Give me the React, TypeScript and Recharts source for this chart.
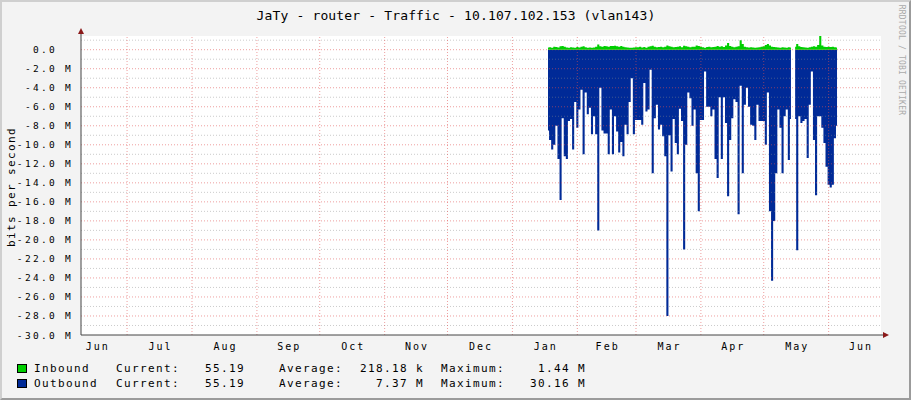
import React from 'react';
import { AreaChart, Area, XAxis, YAxis, CartesianGrid, ReferenceLine, ReferenceDot } from 'recharts';

// Days counted from 1 June of the first year shown
const firstDay = 231;
const inbound: (number | null)[] = [
  0.22, 0.25, 0.2, 0.3, 0.28, 0.24, 0.35, 0.4, 0.3, 0.22,
  0.2, 0.25, 0.22, 0.2, 0.28, 0.22, 0.3, 0.35, 0.25, 0.2,
  0.22, 0.2, 0.24, 0.3, 0.55, 0.35, 0.3, 0.4, 0.35, 0.3,
  0.38, 0.4, 0.42, 0.35, 0.3, 0.38, 0.3, 0.25, 0.22, 0.2,
  0.2, 0.22, 0.25, 0.25, 0.3, 0.22, 0.28, 0.2, 0.3, 0.35,
  0.42, 0.3, 0.25, 0.28, 0.3, 0.25, 0.32, 0.45, 0.35, 0.3,
  0.25, 0.28, 0.3, 0.35, 0.25, 0.42, 0.35, 0.3, 0.25, 0.3,
  0.3, 0.45, 0.4, 0.3, 0.25, 0.2, 0.28, 0.3, 0.25, 0.28,
  0.32, 0.4, 0.3, 0.35, 0.28, 0.45, 0.7, 0.4, 0.3, 0.25,
  0.3, 0.35, 1.0, 0.6, 0.3, 0.25, 0.22, 0.25, 0.22, 0.2,
  0.22, 0.25, 0.3, 0.35, 0.5, 0.6, 0.45, 0.3, 0.28, 0.25,
  0.22, 0.2, 0.25, 0.22, 0.2, 0.25, 0.22,
  null,
  0.3, 0.6, 0.35, 0.28, 0.25, 0.22, 0.2, 0.25, 0.3, 0.35,
  0.3, 0.5, 1.44, 0.45, 0.3, 0.28, 0.3, 0.28, 0.3, 0.25, 0.22,
];
const outbound: (number | null)[] = [
  -8.5, -9.5, -10.5, -10, -8.0, -11.5, -15.8, -7.2, -11.2, -11.5,
  -7.5, -7.3, -10.5, -5.5, -8.2, -6.3, -4.2, -11, -4.5, -6.8,
  -6.1, -8.9, -7.0, -8.9, -19, -4.0, -8.5, -8.8, -8.8, -11,
  -6.3, -11, -7.0, -8.6, -10.8, -9.7, -11.2, -7.9, -8.9, -5.5,
  -3.0, -8.9, -7.4, -7.4, -7.4, -7.9, -3.5, -6.5, -6.3, -2.1,
  -13, -7.2, -5.8, -8.4, -7.9, -9.1, -11.2, -28, -9.0, -12.8,
  -7.3, -9.8, -11, -6.2, -7.5, -21, -10, -4.5, -5.1, -8,
  -6.3, -13, -17, -7.4, -7.4, -2.3, -6.0, -6.0, -7.0, -6.3,
  -11.5, -13.5, -5, -11.5, -5, -7.7, -15.4, -9.5, -7.2, -5.2,
  -5.5, -17.3, -3.8, -13, -5.8, -4, -6, -7.9, -8, -9.5,
  -5.8, -7.5, -7.5, -7.5, -10, -4.5, -17, -24.3, -18, -13,
  -6.3, -8.2, -13, -7, -6.3, -11.6, -7.3,
  null,
  -7.3, -21.1, -7, -7.7, -7.5, -7.3, -11.4, -5.8, -2.3, -9.5,
  -15.3, -7, -7, -8.2, -9.8, -12.3, -14.2, -14.5, -14.2, -9.3, -8,
];
const data = inbound.map((v, i) => ({ day: firstDay + i, inbound: v, outbound: outbound[i] }));

const xDomain: [number, number] = [8, 390];
const yDomain: [number, number] = [-30, 1.44];
const monthStarts = [30, 61, 92, 122, 153, 183, 214, 245, 273, 304, 334, 365];
const monthMids = [15.5, 45.5, 76.5, 107, 137.5, 168, 198.5, 229.5, 259, 288.5, 319, 349.5, 380];
const monthLabels = ['Jun', 'Jul', 'Aug', 'Sep', 'Oct', 'Nov', 'Dec', 'Jan', 'Feb', 'Mar', 'Apr', 'May', 'Jun'];
const yTicks = [0, -2, -4, -6, -8, -10, -12, -14, -16, -18, -20, -22, -24, -26, -28, -30];
const minorLines = [1, -1, -3, -5, -7, -9, -11, -13, -15, -17, -19, -21, -23, -25, -27, -29];
const majorLines = [0, -2, -4, -6, -8, -10, -12, -14, -16, -18, -20, -22, -24, -26, -28];

const title = 'JaTy - router - Traffic - 10.107.102.153 (vlan143)';
const legendRows = [
  { name: 'Inbound', color: '#00CF00', current: '55.19', average: '218.18 k', maximum: '1.44 M' },
  { name: 'Outbound', color: '#002A97', current: '55.19', average: '7.37 M', maximum: '30.16 M' },
];

const MONO = '"DejaVu Sans Mono", monospace';

const fmtY = (v: number) => (v === 0 ? '0.0\u00a0\u00a0' : `${v.toFixed(1)} M`);

const YTick = (p: any) => (
  <text x={p.x} y={p.y} dy={3.5} dx={0} textAnchor="end" fontFamily={MONO} fontSize={9.5} letterSpacing={2.3} fill="#000">
    {fmtY(p.payload.value)}
  </text>
);

const XTick = (p: any) => {
  const idx = monthMids.indexOf(p.payload.value);
  return (
    <text x={p.x} y={p.y} dy={7} dx={1} textAnchor="middle" fontFamily={MONO} fontSize={10} letterSpacing={2} fill="#000">
      {monthLabels[idx]}
    </text>
  );
};

const ArrowRight = (p: any) => (
  <g>
    <line x1={p.cx} y1={p.cy} x2={p.cx + 3} y2={p.cy} stroke="#444" strokeWidth={1} />
    <polygon points={`${p.cx + 2},${p.cy - 3} ${p.cx + 8},${p.cy} ${p.cx + 2},${p.cy + 3}`} fill="#8b1a1a" />
  </g>
);
const ArrowUp = (p: any) => (
  <g>
    <line x1={p.cx} y1={p.cy} x2={p.cx} y2={p.cy - 3} stroke="#444" strokeWidth={1} />
    <polygon points={`${p.cx - 3},${p.cy - 2} ${p.cx},${p.cy - 8} ${p.cx + 3},${p.cy - 2}`} fill="#8b1a1a" />
  </g>
);

export default function App() {
  return (
    <div style={{ position: 'absolute', left: 0, top: 0, width: 911, height: 400, background: '#f3f3f3', overflow: 'hidden' }}>
      <AreaChart width={911} height={400} data={data} margin={{ top: 36, right: 30, bottom: 35, left: 0 }}>
        <CartesianGrid horizontal={false} vertical={false} fill="#ffffff" stroke="none" />
        <XAxis
          type="number"
          dataKey="day"
          domain={xDomain}
          ticks={monthMids}
          tick={XTick}
          tickLine={false}
          axisLine={{ stroke: '#444', strokeWidth: 1 }}
          height={30}
          allowDataOverflow
          interval={0}
        />
        <YAxis
          type="number"
          domain={yDomain}
          ticks={yTicks}
          tick={YTick}
          tickLine={false}
          axisLine={{ stroke: '#444', strokeWidth: 1 }}
          width={81}
          allowDataOverflow
          interval={0}
        />
        <Area
          type="step"
          dataKey="outbound"
          baseValue={0}
          stroke="none"
          fill="#002A97"
          fillOpacity={1}
          isAnimationActive={false}
          connectNulls={false}
        />
        <Area
          type="step"
          dataKey="inbound"
          baseValue={0}
          stroke="none"
          fill="#00CF00"
          fillOpacity={1}
          isAnimationActive={false}
          connectNulls={false}
        />
        {minorLines.map((v) => (
          <ReferenceLine key={'mi' + v} y={v} stroke="#8c8c8c" strokeOpacity={0.45} strokeDasharray="1 2" />
        ))}
        {majorLines.map((v) => (
          <ReferenceLine key={'ma' + v} y={v} stroke="#e05050" strokeOpacity={0.55} strokeDasharray="1 2" />
        ))}
        {monthStarts.map((d) => (
          <ReferenceLine key={'m' + d} x={d} stroke="#e05050" strokeOpacity={0.55} strokeDasharray="1 2" />
        ))}
        <ReferenceDot x={xDomain[1]} y={yDomain[0]} shape={ArrowRight} ifOverflow="visible" />
        <ReferenceDot x={xDomain[0]} y={yDomain[1]} shape={ArrowUp} ifOverflow="visible" />
      </AreaChart>
      <svg width={911} height={400} style={{ position: 'absolute', left: 0, top: 0, pointerEvents: 'none' }}>
        <text x={456} y={19.5} textAnchor="middle" fontFamily={MONO} fontSize={13} letterSpacing={0.15} fill="#000">
          {title}
        </text>
        <text
          x={15}
          y={187}
          transform="rotate(-90 15 187)"
          textAnchor="middle"
          fontFamily={MONO}
          fontSize={11}
          letterSpacing={1.38}
          fill="#000"
        >
          bits per second
        </text>
        <text
          x={899}
          y={60}
          transform="rotate(90 899 60)"
          textAnchor="middle"
          fontFamily={MONO}
          fontSize={8}
          letterSpacing={0.2}
          fill="#aaaaaa"
        >
          RRDTOOL / TOBI OETIKER
        </text>
        {legendRows.map((r, i) => {
          const base = 372 + i * 15;
          const t = { fontFamily: MONO, fontSize: 11, letterSpacing: 1.38, fill: '#000' } as any;
          return (
            <g key={r.name}>
              <rect x={17.5} y={base - 7.5} width={9} height={8} fill={r.color} stroke="#000" strokeWidth={1} />
              <text x={34} y={base} {...t}>{r.name}</text>
              <text x={116} y={base} {...t}>Current:</text>
              <text x={245} y={base} textAnchor="end" {...t}>{r.current}</text>
              <text x={279} y={base} {...t}>Average:</text>
              <text x={424} y={base} textAnchor="end" {...t}>{r.average}</text>
              <text x={441} y={base} {...t}>Maximum:</text>
              <text x={586} y={base} textAnchor="end" {...t}>{r.maximum}</text>
            </g>
          );
        })}
      </svg>
      <div
        style={{
          position: 'absolute',
          left: 0,
          top: 0,
          width: 911,
          height: 400,
          boxSizing: 'border-box',
          borderTop: '2px solid #cfcfcf',
          borderLeft: '2px solid #cfcfcf',
          borderRight: '2px solid #9b9b9b',
          borderBottom: '2px solid #9b9b9b',
          pointerEvents: 'none',
        }}
      />
    </div>
  );
}
